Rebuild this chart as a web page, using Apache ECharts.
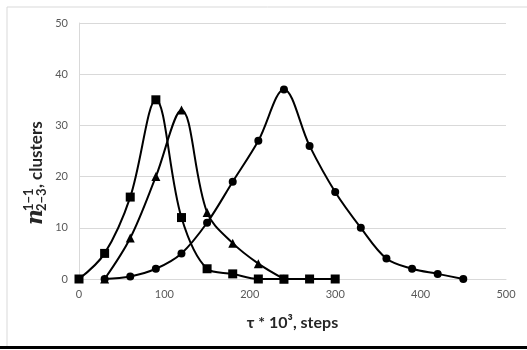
<!DOCTYPE html>
<html>
<head>
<meta charset="utf-8">
<script src="https://cdn.jsdelivr.net/npm/echarts@6/dist/echarts.min.js"></script>
<style>
  html, body { margin: 0; padding: 0; background: #fff; }
  #content { width: 527px; height: 350px; }
</style>
</head>
<body>
<div id="content"></div>
<script>
// 数据（τ * 10^3 步）
var squareX = [0, 30, 60, 90, 120, 150, 180, 210, 240, 270, 300];
var squareY = [0, 5, 16, 35, 12, 2, 1, 0, 0, 0, 0];
var triangleX = [30, 60, 90, 120, 150, 180, 210, 240];
var triangleY = [0, 8, 20, 33, 13, 7, 3, 0];
var circleX = [30, 60, 90, 120, 150, 180, 210, 240, 270, 300, 330, 360, 390, 420, 450];
var circleY = [0, 0.5, 2, 5, 11, 19, 27, 37, 26, 17, 10, 4, 2, 1, 0];
var xTicks = [0, 100, 200, 300, 400, 500];
var yTicks = [0, 10, 20, 30, 40, 50];

function pairs(xs, ys) {
    return xs.map(function (x, i) { return [x, ys[i]]; });
}

var myChart = echarts.init(document.getElementById('content'));
var labelFont = 'Lato, "Open Sans", sans-serif';

var option = {
    animation: false,
    grid: { left: 79, right: 21, top: 23, bottom: 71 },
    xAxis: {
        type: 'value',
        min: xTicks[0],
        max: xTicks[xTicks.length - 1],
        interval: 100,
        name: 'τ * 10³, steps',
        nameLocation: 'middle',
        nameGap: 36,
        nameTextStyle: { fontFamily: labelFont, fontWeight: 'bold', fontSize: 16, color: '#262626' },
        axisLine: { lineStyle: { color: '#d9d9d9', width: 1 } },
        axisTick: { show: false },
        splitLine: { show: false },
        axisLabel: { color: '#595959', fontSize: 11, fontFamily: labelFont, margin: 10 }
    },
    yAxis: {
        type: 'value',
        min: yTicks[0],
        max: yTicks[yTicks.length - 1],
        interval: 10,
        axisLine: { show: true, lineStyle: { color: '#d9d9d9', width: 1 } },
        axisTick: { show: false },
        splitLine: { lineStyle: { color: '#d9d9d9', width: 1 } },
        axisLabel: { color: '#595959', fontSize: 11, fontFamily: labelFont, margin: 11 }
    },
    graphic: [
        // 外框
        { type: 'rect', shape: { x: 7, y: 7, width: 540, height: 340 }, style: { fill: 'none', stroke: '#d9d9d9', lineWidth: 1 }, z: -1 },
        { type: 'rect', shape: { x: 0, y: 346, width: 527, height: 3 }, style: { fill: '#000' } },
        // y 轴名称
        {
            type: 'group', x: 36, y: 167, rotation: Math.PI / 2,
            children: [
                { type: 'text', x: -58, y: 0, style: { text: 'n', font: 'italic bold 22px "DejaVu Serif", serif', fill: '#262626', verticalAlign: 'middle' } },
                { type: 'text', x: -44, y: -7, style: { text: '1−1', font: 'bold 13px ' + labelFont, fill: '#262626', verticalAlign: 'middle' } },
                { type: 'text', x: -44, y: 6, style: { text: '2−3', font: 'bold 13px ' + labelFont, fill: '#262626', verticalAlign: 'middle' } },
                { type: 'text', x: -21, y: 1, style: { text: ', clusters', font: 'bold 17px ' + labelFont, fill: '#262626', verticalAlign: 'middle' } }
            ]
        }
    ],
    series: [
        {
            name: 'squares', type: 'line', smooth: 0.35,
            symbol: 'rect', symbolSize: 9,
            itemStyle: { color: '#000' }, lineStyle: { color: '#000', width: 2 },
            data: pairs(squareX, squareY)
        },
        {
            name: 'triangles', type: 'line', smooth: 0.35,
            symbol: 'triangle', symbolSize: 9,
            itemStyle: { color: '#000' }, lineStyle: { color: '#000', width: 2 },
            data: pairs(triangleX, triangleY)
        },
        {
            name: 'circles', type: 'line', smooth: 0.35,
            symbol: 'circle', symbolSize: 8,
            itemStyle: { color: '#000' }, lineStyle: { color: '#000', width: 2 },
            data: pairs(circleX, circleY)
        }
    ]
};

myChart.setOption(option);
</script>
</body>
</html>
